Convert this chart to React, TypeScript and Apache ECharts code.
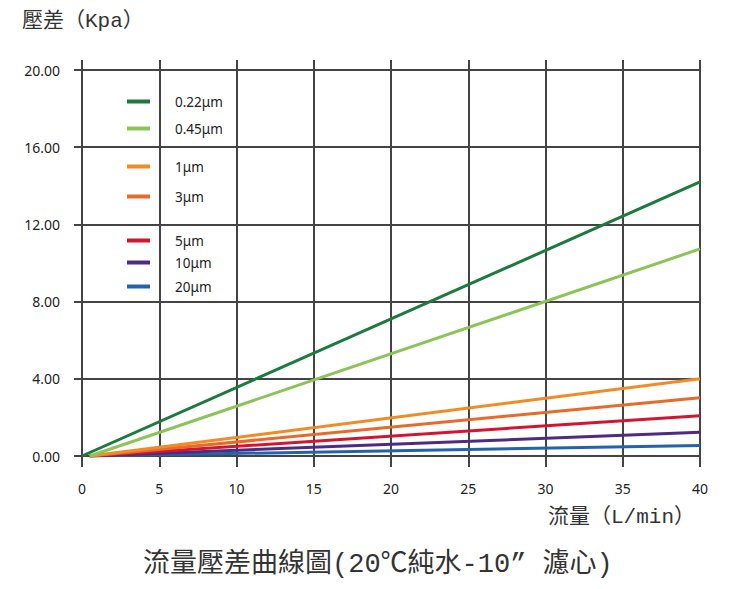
import React, { useEffect, useRef } from "react";
import * as echarts from "echarts";

const seriesNames = ["0.22μm", "0.45μm", "1μm", "3μm", "5μm", "10μm", "20μm"];
const seriesColors = ["#1b7a3d", "#8bc457", "#f28b24", "#e76a2b", "#d5152f", "#4e2a83", "#2263ad"];
// each series: straight line from start point to end point (flow L/min, pressure kPa)
const startFlow = [0, 0.5, 0.5, 0.5, 0.5, 0.5, 0.5];
const endFlow = [40, 40, 40, 40, 40, 40, 40];
const endPressure = [14.2, 10.73, 4.0, 3.02, 2.09, 1.23, 0.55];
const legendTops = [101, 128, 166, 196, 240, 262, 286];
const xTicks = [0, 5, 10, 15, 20, 25, 30, 35, 40];
const yTicks = [0, 4, 8, 12, 16, 20];

const yTitle = "壓差（Kpa）";
const xTitle = "流量（L/min）";
const chartTitle = "流量壓差曲線圖(20℃純水-10” 濾心)";

export default function App() {
  const ref = useRef<HTMLDivElement>(null);
  useEffect(() => {
    document.body.style.margin = "0";
    const chart = echarts.init(ref.current!, null, { renderer: "svg" });
    const gridColor = "#444444";
    const cjkFont = "'Liberation Mono', 'Noto Sans CJK TC', monospace";
    const latinFont = "'Noto Sans', sans-serif";
    chart.setOption({
      animation: false,
      backgroundColor: "#ffffff",
      grid: { left: 82, right: 35, top: 70, bottom: 133 },
      title: [
        {
          text: yTitle,
          left: 17,
          top: 6,
          textStyle: { fontFamily: cjkFont, fontSize: 21, fontWeight: "normal", color: "#333" },
        },
        {
          text: xTitle,
          left: 543,
          top: 502,
          textStyle: { fontFamily: cjkFont, fontSize: 21, fontWeight: "normal", color: "#333" },
        },
        {
          text: chartTitle,
          left: 138,
          top: 546,
          textStyle: { fontFamily: cjkFont, fontSize: 27, fontWeight: "normal", color: "#333" },
        },
      ],
      legend: seriesNames.map((n, i) => ({
        data: [n],
        left: 122,
        top: legendTops[i] - 11.5,
        icon: "rect",
        itemWidth: 23,
        itemHeight: 4,
        selectedMode: false,
        textStyle: { fontFamily: latinFont, fontSize: 13.5, color: "#222", padding: [0, 0, 0, 20] },
      })),
      xAxis: [
        {
          type: "value",
          min: xTicks[0],
          max: xTicks[xTicks.length - 1],
          interval: 5,
          axisLine: { show: true, lineStyle: { color: gridColor, width: 2 } },
          axisTick: { show: true, length: 11, lineStyle: { color: gridColor, width: 2 } },
          splitLine: { show: true, lineStyle: { color: gridColor, width: 2 } },
          axisLabel: { margin: 25, fontFamily: latinFont, fontSize: 14, color: "#222" },
        },
        {
          type: "value",
          position: "top",
          min: xTicks[0],
          max: xTicks[xTicks.length - 1],
          interval: 5,
          axisLine: { show: false },
          axisTick: { show: true, length: 10, lineStyle: { color: gridColor, width: 2 } },
          splitLine: { show: false },
          axisLabel: { show: false },
        },
      ],
      yAxis: {
        type: "value",
        min: yTicks[0],
        max: yTicks[yTicks.length - 1],
        interval: 4,
        axisLine: { show: true, lineStyle: { color: gridColor, width: 2 } },
        axisTick: { show: true, length: 8, lineStyle: { color: gridColor, width: 2 } },
        splitLine: { show: true, lineStyle: { color: gridColor, width: 2 } },
        axisLabel: {
          margin: 22,
          fontFamily: latinFont,
          fontSize: 14,
          color: "#222",
          formatter: (v: number) => v.toFixed(2),
        },
      },
      series: seriesNames.map((n, i) => ({
        name: n,
        type: "line",
        xAxisIndex: 0,
        symbol: "none",
        color: seriesColors[i],
        lineStyle: { width: 3, color: seriesColors[i] },
        data: [
          [startFlow[i], 0],
          [endFlow[i], endPressure[i]],
        ],
        z: 10 - i,
      })),
    });
    return () => chart.dispose();
  }, []);
  return <div ref={ref} style={{ width: 735, height: 589, position: "absolute", left: 0, top: 0 }} />;
}
